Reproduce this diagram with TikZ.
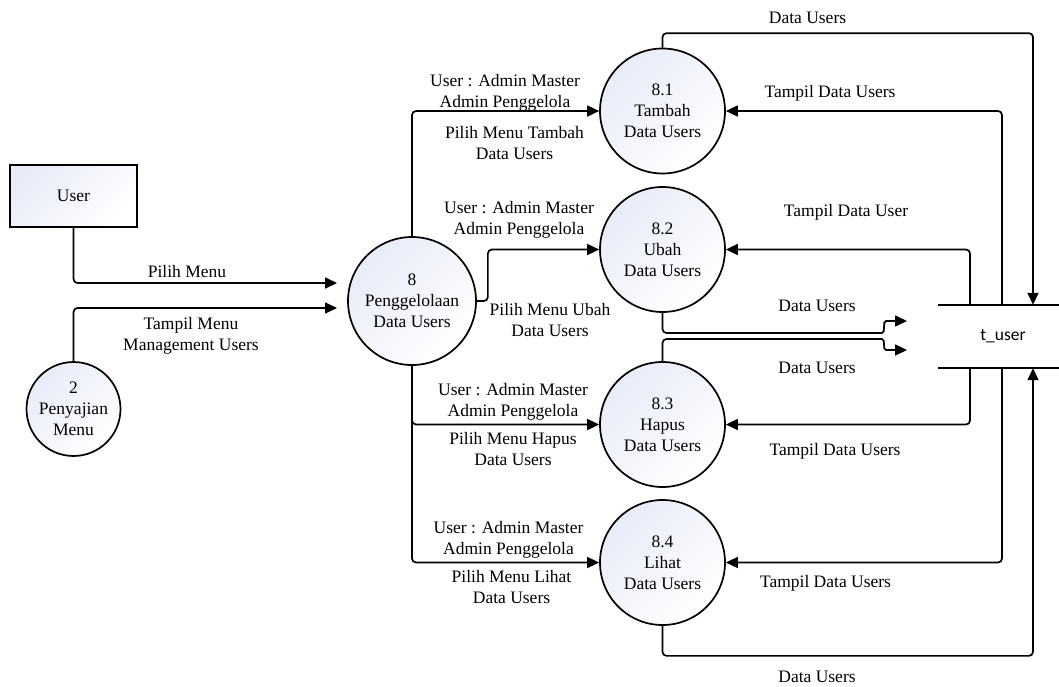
\documentclass[tikz,border=0pt]{standalone}
\usepackage{fontspec}
\setmainfont{Liberation Serif}
\newfontfamily\storefont{Carlito}
\usetikzlibrary{arrows.meta}
\definecolor{gradc}{RGB}{232,236,248}
\begin{document}
\begin{tikzpicture}[x=1pt,y=-1pt,
  every node/.style={font=\fontsize{17.5}{21}\selectfont, align=center, inner sep=0pt},
  base/.style={draw=black, line width=1.7pt, top color=gradc, bottom color=white, shading angle=45},
  entity/.style={base, rectangle, minimum width=127pt, minimum height=62pt},
  proc/.style={base, circle, minimum size=125pt},
  flow/.style={line width=1.7pt, rounded corners=4pt, -{Triangle[length=12pt,width=11pt]}},
  storeline/.style={line width=1.7pt},
  lbl/.style={}]
\useasboundingbox (0,0) rectangle (1059,686);

% external entity and processes
\node[entity] (user) at (73.5,196) {User};
\node[proc, minimum size=94pt] (p2) at (73.5,409) {2\\Penyajian\\Menu};
\node[proc, minimum size=128pt] (p8) at (412,301) {8\\Penggelolaan\\Data Users};
\node[proc] (p81) at (662.5,111) {8.1\\Tambah\\Data Users};
\node[proc] (p82) at (662.5,249.5) {8.2\\Ubah\\Data Users};
\node[proc] (p83) at (662.5,424.5) {8.3\\Hapus\\Data Users};
\node[proc] (p84) at (662.5,562.5) {8.4\\Lihat\\Data Users};

% data store
\node[minimum width=130pt, minimum height=63pt, font=\storefont\fontsize{17.5}{21}\selectfont] (tuser) at (1003,336.5) {t\_user};
\draw[storeline] ([xshift=-65pt]tuser.north) -- (tuser.north east);
\draw[storeline] ([xshift=-65pt]tuser.south) -- (tuser.south east);

% free arrow ends
\coordinate (in8a) at (337,283);
\coordinate (in8b) at (337,308);
\coordinate (d2end) at (907,321);
\coordinate (d3end) at (907,350);

% flows into process 8
\draw[flow] (user.south) |- (in8a);
\draw[flow] (p2.north) |- (in8b);

% flows from process 8 to the sub-processes
\draw[flow] (p8.north) |- (p81.west);
\draw[flow] (p8.east) -- ++(11,0) |- (p82.west);
\draw[flow] (p8.south) |- (p83.west);
\draw[flow] (p8.south) |- (p84.west);

% flows between sub-processes and t_user
\draw[flow] (p81.north) -- ++(0,-14.5) -| ([xshift=30pt]tuser.north);
\draw[flow] ([xshift=-1pt]tuser.north) |- (p81.east);
\draw[flow] ([xshift=-33pt]tuser.north) |- (p82.east);
\draw[flow] (p82.south) |- (878,333) .. controls (886,333) and (882,321) .. (890,321) -- (d2end);
\draw[flow] (p83.north) |- (878,339) .. controls (886,339) and (882,350) .. (890,350) -- (d3end);
\draw[flow] ([xshift=-33pt]tuser.south) |- (p83.east);
\draw[flow] ([xshift=-1pt]tuser.south) |- (p84.east);
\draw[flow] (p84.south) -- ++(0,30) -| ([xshift=30pt]tuser.south);

% flow labels
\node[lbl] (lpm) at (187,272) {Pilih Menu};
\node[lbl] (ltm) at (191,336) {Tampil Menu\\Management Users};
\node[lbl] (lu1) at (505,92.5) {User : Admin Master\\Admin Penggelola};
\node[lbl] (lm1) at (514.5,143.5) {Pilih Menu Tambah\\Data Users};
\node[lbl] (lu2) at (519,220) {User : Admin Master\\Admin Penggelola};
\node[lbl] (lm2) at (550,320) {Pilih Menu Ubah\\Data Users};
\node[lbl] (lu3) at (513,402) {User : Admin Master\\Admin Penggelola};
\node[lbl] (lm3) at (513,449) {Pilih Menu Hapus\\Data Users};
\node[lbl] (lu4) at (508.5,540) {User : Admin Master\\Admin Penggelola};
\node[lbl] (lm4) at (511.5,587) {Pilih Menu Lihat\\Data Users};
\node[lbl] (ld1) at (807.5,18) {Data Users};
\node[lbl] (lt1) at (830,93) {Tampil Data Users};
\node[lbl] (lt2) at (846,212) {Tampil Data User};
\node[lbl] (ld2) at (817,306) {Data Users};
\node[lbl] (ld3) at (817,368) {Data Users};
\node[lbl] (lt3) at (835,451) {Tampil Data Users};
\node[lbl] (lt4) at (825.5,583) {Tampil Data Users};
\node[lbl] (ld4) at (817,677) {Data Users};
\end{tikzpicture}
\end{document}
